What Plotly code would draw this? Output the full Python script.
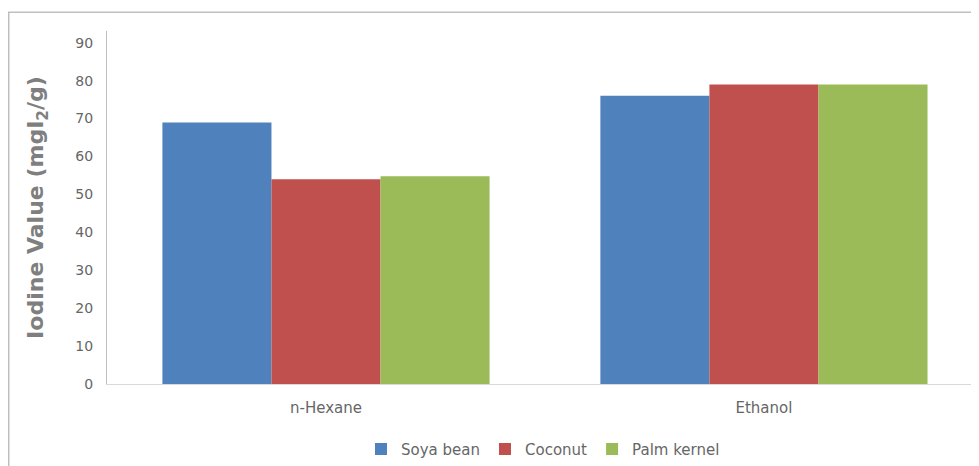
import plotly.graph_objects as go

categories = ["n-Hexane", "Ethanol"]
soya_bean = [69, 76]
coconut = [54, 79]
palm_kernel = [54.8, 79]
series_names = ["Soya bean", "Coconut", "Palm kernel"]
colors = ["#4f81bd", "#c0504d", "#9bbb59"]
y_ticks = [0, 10, 20, 30, 40, 50, 60, 70, 80, 90]

# page body has an 8px default margin
OFF = 8
W, H = 979 - OFF, 466 - OFF
ml, mr, mt, mb = 107 - OFF, 0, 31 - OFF, 466 - 388
pw = W - ml - mr
ph = H - mt - mb

FAM = "DejaVu Sans, Verdana, sans-serif"
YTICKFONT = dict(family=FAM, size=14, color="#666666")
XTICKFONT = dict(family=FAM, size=15, color="#666666")

fig = go.Figure()
for name, vals, col in zip(series_names, [soya_bean, coconut, palm_kernel], colors):
    fig.add_trace(go.Bar(x=categories, y=vals, name=name, marker=dict(color=col, line=dict(width=0))))

fig.update_layout(
    width=W, height=H,
    margin=dict(l=ml, r=mr, t=mt, b=mb),
    paper_bgcolor="white", plot_bgcolor="white",
    barmode="group", bargap=0.253, bargroupgap=0,
    font=XTICKFONT,
    legend=dict(orientation="h", x=0.5, xanchor="center", y=(388 - 454) / ph, yanchor="middle",
                font=XTICKFONT, itemwidth=30, traceorder="normal"),
    showlegend=True,
)
fig.update_xaxes(range=[-0.5, 1.491], showline=True, linecolor="#d9d9d9", linewidth=1,
                 showgrid=False, ticks="", tickfont=XTICKFONT, ticklabelstandoff=10)
fig.update_yaxes(range=[0, 93.1], tickvals=y_ticks, showline=True, linecolor="#bfbfbf", linewidth=1,
                 showgrid=False, zeroline=False, ticks="", ticklabelstandoff=10,
                 tickfont=YTICKFONT,
                 title=dict(text="Iodine Value (mgI<sub>2</sub>/g)",
                            font=dict(size=22, color="#7f7f7f", family="DejaVu Sans, sans-serif", weight="bold"),
                            standoff=25))

fig.add_shape(type="rect", xref="paper", yref="paper",
              x0=(0.75 - ml) / pw, x1=1.05, y0=-0.4, y1=1 + (31 - 12) / ph,
              line=dict(color="#bfbfbf", width=1.5), fillcolor="rgba(0,0,0,0)", layer="below")

fig.write_html("out.html")
